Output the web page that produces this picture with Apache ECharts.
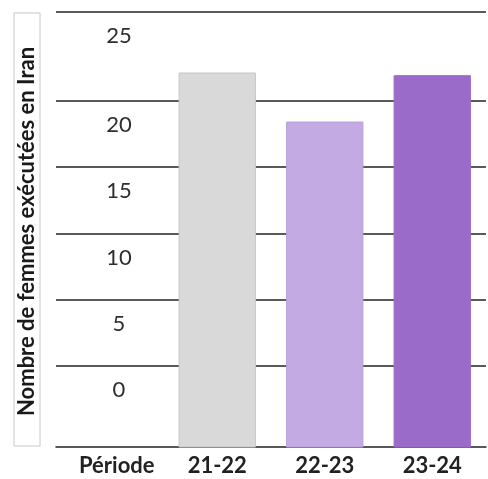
<!DOCTYPE html>
<html>
<head>
<meta charset="utf-8">
<script src="https://cdn.jsdelivr.net/npm/echarts@6/dist/echarts.min.js"></script>
<style>
  html, body { margin: 0; padding: 0; background: #ffffff; }
  #chart { width: 488px; height: 479px; }
</style>
</head>
<body>
<div id="chart"></div>
<script>
// Columns along the bottom: a heading column followed by the three periods
const categories = ['Période', '21-22', '22-23', '23-24'];
const periods = ['21-22', '22-23', '23-24'];
// Women executed in Iran per period
const womenExecuted = [22.1, 18.4, 21.9];
// Value range covered by the plot (bottom rule to top rule)
const yMin = -6.1;
const yMax = 26.7;
// Gridline positions and the labels printed under each of them
const tickValues = [0, 5, 10, 15, 20, yMax];
const tickLabels = ['0', '5', '10', '15', '20', '25'];

const barColors = ['#d9d9d9', '#c4aae2', '#9b6bc9'];
const barBorders = ['#c6c6c6', '#b89fd9', '#9b6bc9'];
const ruleColor = '#222222';

const chart = echarts.init(document.getElementById('chart'), null, { renderer: 'canvas' });

chart.setOption({
  animation: false,
  backgroundColor: '#ffffff',
  grid: { left: 56, right: 2, top: 12, bottom: 32 },
  xAxis: {
    type: 'category',
    data: categories.map((c, i) => i === 0
      ? { value: c, textStyle: { padding: [0, 0, 0, 14] } }
      : c),
    axisLine: { show: true, onZero: false, lineStyle: { color: ruleColor, width: 1.5 } },
    axisTick: { show: false },
    splitLine: { show: false },
    axisLabel: {
      margin: 8,
      fontFamily: 'Lato',
      fontWeight: 'bold',
      fontSize: 22,
      color: '#222222'
    }
  },
  yAxis: {
    type: 'value',
    min: yMin,
    max: yMax,
    name: 'Nombre de femmes exécutées en Iran',
    nameLocation: 'middle',
    nameRotate: 90,
    nameGap: 16,
    nameTextStyle: {
      fontFamily: 'Lato',
      fontWeight: 'bold',
      fontSize: 22,
      color: '#1a1a1a',
      padding: [2, 34, 2, 30],
      borderColor: '#c8c8c8',
      borderWidth: 1
    },
    axisLine: { show: false },
    axisTick: { show: false, customValues: tickValues },
    axisLabel: {
      customValues: tickValues,
      formatter: function (v) {
        const i = tickValues.indexOf(v);
        return i >= 0 ? tickLabels[i] : '';
      },
      margin: -63,
      align: 'center',
      verticalAlign: 'top',
      lineHeight: 48,
      fontFamily: 'Lato',
      fontSize: 22,
      color: '#2e2e2e'
    },
    splitLine: { show: true, lineStyle: { color: ruleColor, width: 1.5 } }
  },
  series: [{
    type: 'custom',
    data: periods.map((p, i) => [p, womenExecuted[i]]),
    encode: { x: 0, y: 1 },
    renderItem: function (params, api) {
      const xIdx = api.value(0);
      const top = api.coord([xIdx, api.value(1)]);
      const base = api.coord([xIdx, yMin]);
      const w = api.size([1, 0])[0] * 0.71;
      return {
        type: 'rect',
        shape: { x: top[0] - w / 2, y: top[1], width: w, height: base[1] - top[1] },
        style: {
          fill: barColors[params.dataIndex],
          stroke: barBorders[params.dataIndex],
          lineWidth: 1
        }
      };
    }
  }]
});
</script>
</body>
</html>
